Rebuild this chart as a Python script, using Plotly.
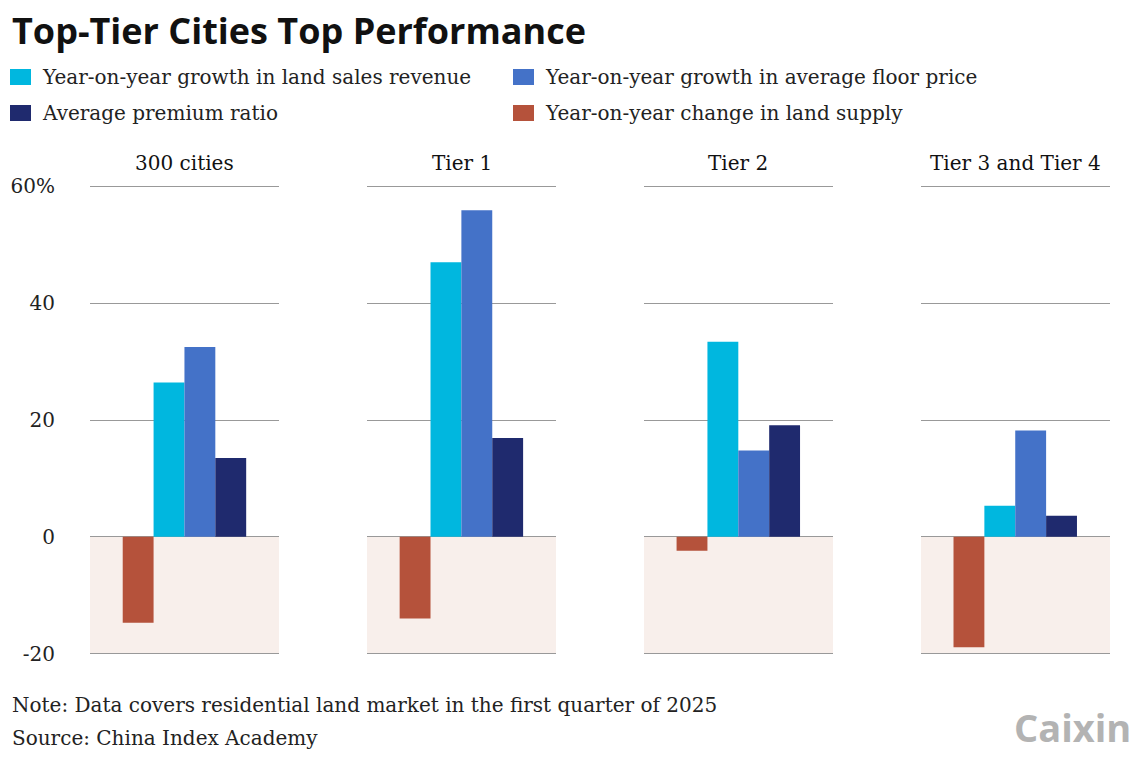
import plotly.graph_objects as go
from plotly.subplots import make_subplots

panels = ["300 cities", "Tier 1", "Tier 2", "Tier 3 and Tier 4"]
series = ["Year-on-year change in land supply", "Year-on-year growth in land sales revenue",
          "Year-on-year growth in average floor price", "Average premium ratio"]
colors = ["#b5523b", "#00b7df", "#4472c8", "#1f2a6e"]
values = [
    [-14.7, -14.0, -2.4, -18.9],   # land supply
    [26.4, 47.0, 33.4, 5.3],        # sales revenue
    [32.5, 55.9, 14.8, 18.2],       # floor price
    [13.5, 16.9, 19.1, 3.6],        # premium ratio
]
# legend layout: (series index, column, row)
legend_pos = [(1, 0, 0), (2, 1, 0), (3, 0, 1), (0, 1, 1)]

fig = make_subplots(rows=1, cols=4, shared_yaxes=True, horizontal_spacing=0.086)
for s in range(4):
    for p in range(4):
        fig.add_trace(go.Bar(x=[s], y=[values[s][p]], width=1, marker_color=colors[s],
                             name=series[s], showlegend=False), row=1, col=p + 1)

font = "DejaVu Serif"
for p in range(4):
    xa = "x" if p == 0 else f"x{p + 1}"
    fig.add_shape(type="rect", xref=xa, yref="y", x0=-1.56, x1=4.57, y0=-20, y1=0,
                  fillcolor="#f8efeb", line_width=0, layer="below")
    fig.update_xaxes(range=[-1.56, 4.57], visible=False, row=1, col=p + 1)
    fig.add_annotation(text=panels[p], xref=f"{xa} domain", yref="paper", x=0.5, y=1.015,
                       yanchor="bottom", showarrow=False, font=dict(size=20, color="#111"))

fig.update_yaxes(range=[-20.4, 60.4], tickvals=[-20, 0, 20, 40, 60],
                 ticktext=["-20", "0", "20", "40", "60%"], showgrid=True,
                 gridcolor="#999999", gridwidth=1, zeroline=False, ticks="",
                 automargin=False, ticklabelstandoff=34,
                 tickfont=dict(size=20, color="#222"))
fig.update_yaxes(showticklabels=False, row=1, col=2)

# page has an 8px body margin; helpers take screenshot pixels
OFF = 8
W, H, L, R, T, B = 1140, 760, 82, 38, 176, 112
pw, ph = W - L - R, H - T - B
def px(x): return (x - OFF - L) / pw
def py(y): return (H - B - (y - OFF)) / ph

for s, col, row in legend_pos:
    x0 = 10 + col * 503
    yc = 77 + row * 36
    fig.add_shape(type="rect", xref="paper", yref="paper", x0=px(x0), x1=px(x0 + 21),
                  y0=py(yc + 8), y1=py(yc - 8), fillcolor=colors[s], line_width=0)
    fig.add_annotation(text=series[s], xref="paper", yref="paper", x=px(x0 + 30), y=py(yc),
                       xanchor="left", yanchor="middle", showarrow=False,
                       font=dict(size=20, color="#222"))

fig.add_annotation(text="<b>Top-Tier Cities Top Performance</b>", xref="paper", yref="paper",
                   x=px(10), y=py(30), xanchor="left", yanchor="middle", showarrow=False,
                   font=dict(family="Open Sans", size=36, color="#111"))
fig.add_annotation(text="Note: Data covers residential land market in the first quarter of 2025",
                   xref="paper", yref="paper", x=px(10), y=py(705), xanchor="left",
                   yanchor="middle", showarrow=False, font=dict(size=20, color="#222"))
fig.add_annotation(text="Source: China Index Academy",
                   xref="paper", yref="paper", x=px(10), y=py(738), xanchor="left",
                   yanchor="middle", showarrow=False, font=dict(size=20, color="#222"))
fig.add_annotation(text="<b>Caixin</b>", xref="paper", yref="paper", x=px(1133), y=py(727),
                   xanchor="right", yanchor="middle", showarrow=False,
                   font=dict(family="Open Sans", size=38, color="#b3b3b3"))

fig.update_layout(
    width=W, height=H, template="none", barmode="overlay", showlegend=False,
    margin=dict(l=L, r=R, t=T, b=B),
    font=dict(family=font, size=18, color="#222"),
    paper_bgcolor="white", plot_bgcolor="white",
)
fig.write_html("out.html")
